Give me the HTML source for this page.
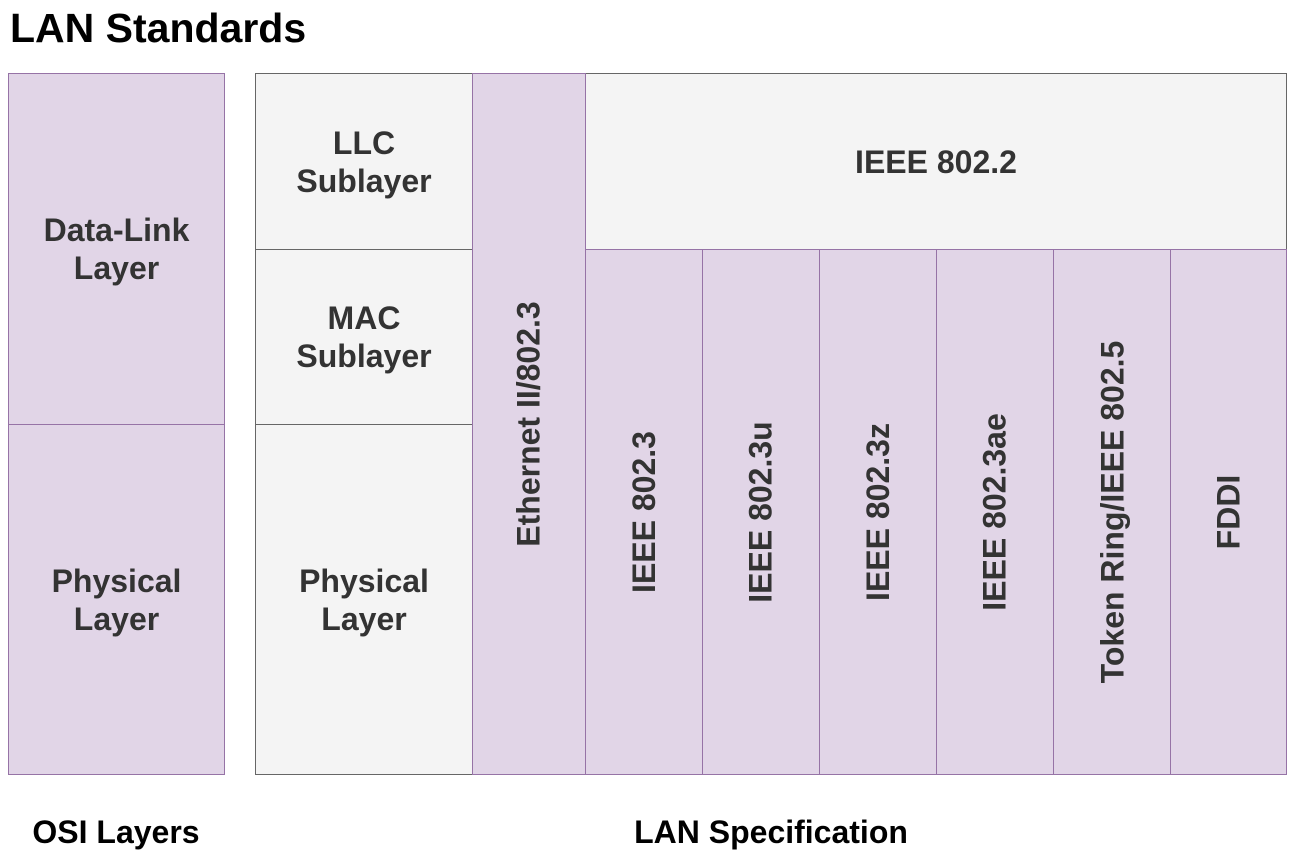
<!DOCTYPE html>
<html><head><meta charset="utf-8"><style>
body{margin:0;width:1294px;height:856px;background:#fff;position:relative;overflow:hidden;font-family:"Liberation Sans",Arial,sans-serif;font-weight:bold}
.b{position:absolute;box-sizing:border-box;display:flex;align-items:center;justify-content:center;text-align:center;color:#333;font-size:32px;line-height:38px}
.p{background:#e1d5e7;border:1px solid #9673a6}
.g{background:#f4f4f4;border:1px solid #666}
.v span{transform:rotate(-90deg);white-space:nowrap;display:block}
.t{position:absolute;color:#000;font-weight:bold}
</style></head><body>
<div class="t" style="left:10px;top:4px;font-size:41px;line-height:48px">LAN Standards</div>
<div class="b p" style="left:8px;top:73px;width:217px;height:352px">Data-Link<br>Layer</div>
<div class="b p" style="left:8px;top:424px;width:217px;height:351px">Physical<br>Layer</div>
<div class="b g" style="left:255px;top:73px;width:218px;height:177px">LLC<br>Sublayer</div>
<div class="b g" style="left:255px;top:249px;width:218px;height:176px">MAC<br>Sublayer</div>
<div class="b g" style="left:255px;top:424px;width:218px;height:351px">Physical<br>Layer</div>
<div class="b g" style="left:585px;top:73px;width:702px;height:177px">IEEE 802.2</div>
<div class="b p v" style="left:472px;top:73px;width:114px;height:702px"><span>Ethernet II/802.3</span></div>
<div class="b p v" style="left:585px;top:249px;width:118px;height:526px"><span>IEEE 802.3</span></div>
<div class="b p v" style="left:702px;top:249px;width:118px;height:526px"><span>IEEE 802.3u</span></div>
<div class="b p v" style="left:819px;top:249px;width:118px;height:526px"><span>IEEE 802.3z</span></div>
<div class="b p v" style="left:936px;top:249px;width:118px;height:526px"><span>IEEE 802.3ae</span></div>
<div class="b p v" style="left:1053px;top:249px;width:118px;height:526px"><span>Token Ring/IEEE 802.5</span></div>
<div class="b p v" style="left:1170px;top:249px;width:117px;height:526px"><span>FDDI</span></div>
<div class="t" style="left:0;width:232px;text-align:center;top:812px;font-size:32px;line-height:40px">OSI Layers</div>
<div class="t" style="left:255px;width:1032px;text-align:center;top:812px;font-size:32px;line-height:40px">LAN Specification</div>
</body></html>
